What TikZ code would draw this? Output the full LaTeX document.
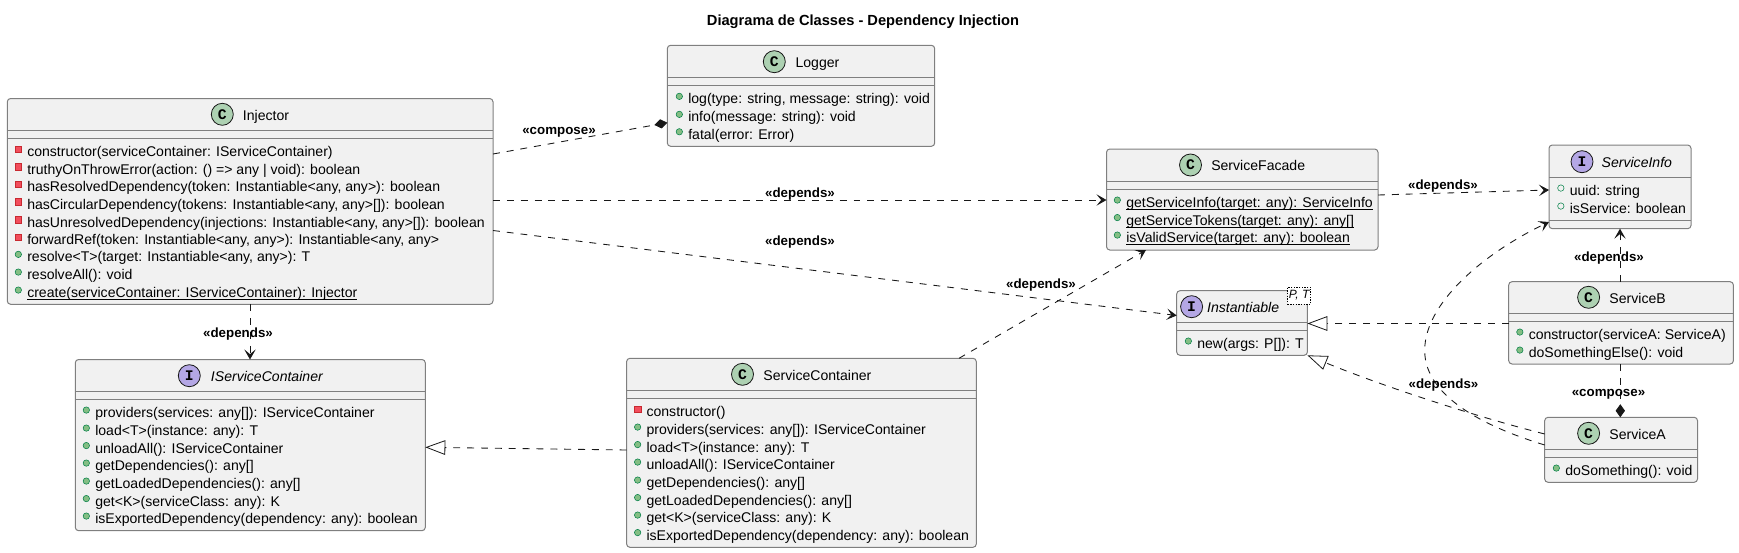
\documentclass[tikz,border=0pt]{standalone}
\usepackage{fontspec}
\setmainfont{Liberation Sans}
\setmonofont{Liberation Mono}
\usepackage{xcolor}
\usepackage{tikz}
\usetikzlibrary{arrows.meta, fit}

\definecolor{boxfill}{HTML}{F1F1F1}
\definecolor{boxline}{HTML}{7F7F7F}
\definecolor{inkline}{HTML}{181818}
\definecolor{classgreen}{HTML}{ADD1B2}
\definecolor{ifacepurple}{HTML}{B4A7E5}
\definecolor{privred}{HTML}{F24D5C}
\definecolor{privline}{HTML}{C82930}
\definecolor{pubgreen}{HTML}{84BE84}
\definecolor{publine}{HTML}{038048}

\begin{document}
\begin{tikzpicture}[
    x=0.75pt, y=-0.75pt,
    every node/.style={font=\fontsize{10.55}{12}\selectfont},
    classbox/.style={draw=boxline, fill=boxfill, rectangle, rounded corners=2.5pt, line width=0.75pt, inner sep=0pt, outer sep=0pt},
    sepline/.style={draw=boxline, line width=0.75pt},
    classicon/.style={draw=inkline, circle, fill=classgreen, line width=0.6pt, minimum size=16.5pt, inner sep=0pt, font=\ttfamily\bfseries\fontsize{11}{12}\selectfont},
    ifaceicon/.style={classicon, fill=ifacepurple},
    headtext/.style={anchor=west, inner sep=0pt, text height=8.5pt, text depth=1pt},
    ifacetext/.style={headtext, font=\itshape\fontsize{10.55}{12}\selectfont},
    member/.style={anchor=west, inner sep=0pt, text height=8pt, text depth=1pt},
    privmark/.style={draw=privline, fill=privred, rectangle, minimum size=4.8pt, inner sep=0pt, line width=0.4pt},
    pubmark/.style={draw=publine, fill=pubgreen, circle, minimum size=4.8pt, inner sep=0pt, line width=0.4pt},
    fieldmark/.style={draw=publine, fill=boxfill, circle, minimum size=4.8pt, inner sep=0pt, line width=0.4pt},
    privrow/.style={member, label={[privmark, label distance=3.9pt, yshift=2.2pt]left:{}}},
    pubrow/.style={member, label={[pubmark, label distance=3.9pt, yshift=2.2pt]left:{}}},
    fieldrow/.style={member, label={[fieldmark, label distance=3.9pt, yshift=2.2pt]left:{}}},
    stereo/.style={inner sep=0pt, text height=8pt, text depth=1pt, font=\bfseries\fontsize{10}{12}\selectfont},
    depline/.style={draw=inkline, line width=0.65pt, dash pattern=on 5.2pt off 5.2pt},
    deparrow/.style={depline, -{Stealth[length=7.5pt, width=8.5pt, inset=3.5pt]}},
    realizes/.style={depline, -{Triangle[fill=white, length=15pt, width=11pt, line width=0.6pt]}},
    composes/.style={depline, -{Diamond[fill=inkline, length=9.8pt, width=7pt]}}
]
    \useasboundingbox (0,0) rectangle (1739,553);

    % Title
    \node[inner sep=0pt, text height=8.5pt, text depth=1pt, font=\bfseries\fontsize{11}{12}\selectfont] (title) at (863,20) {Diagrama de Classes - Dependency Injection};

    % Class boxes
    \node[classbox, fit={(7.3,98.5) (493,304.3)}] (injector) {};
    \node[classbox, fit={(75.3,359.5) (425.3,530.7)}] (container) {};
    \node[classbox, fit={(626.6,358.3) (976.3,547.3)}] (servicecontainer) {};
    \node[classbox, fit={(667.3,45.3) (934.7,146.3)}] (logger) {};
    \node[classbox, fit={(1106.5,149) (1378,250)}] (facade) {};
    \node[classbox, fit={(1549,145) (1691,228.7)}] (serviceinfo) {};
    \node[classbox, fit={(1176.7,290.7) (1307.4,355.3)}] (instantiable) {};
    \node[classbox, fit={(1508.7,281.7) (1733.4,364)}] (serviceb) {};
    \node[classbox, fit={(1544.7,417.3) (1697.5,482.3)}] (servicea) {};

    % Compartment lines
    \draw[sepline] (injector.west |- 0,130.7) -- (injector.east |- 0,130.7);
    \draw[sepline] (injector.west |- 0,138.7) -- (injector.east |- 0,138.7);
    \draw[sepline] (container.west |- 0,391) -- (container.east |- 0,391);
    \draw[sepline] (container.west |- 0,399) -- (container.east |- 0,399);
    \draw[sepline] (servicecontainer.west |- 0,390.3) -- (servicecontainer.east |- 0,390.3);
    \draw[sepline] (servicecontainer.west |- 0,398.3) -- (servicecontainer.east |- 0,398.3);
    \draw[sepline] (logger.west |- 0,77.3) -- (logger.east |- 0,77.3);
    \draw[sepline] (logger.west |- 0,85.3) -- (logger.east |- 0,85.3);
    \draw[sepline] (facade.west |- 0,181.7) -- (facade.east |- 0,181.7);
    \draw[sepline] (facade.west |- 0,189.7) -- (facade.east |- 0,189.7);
    \draw[sepline] (serviceinfo.west |- 0,177.3) -- (serviceinfo.east |- 0,177.3);
    \draw[sepline] (serviceinfo.west |- 0,220.3) -- (serviceinfo.east |- 0,220.3);
    \draw[sepline] (instantiable.west |- 0,322.3) -- (instantiable.east |- 0,322.3);
    \draw[sepline] (instantiable.west |- 0,330.3) -- (instantiable.east |- 0,330.3);
    \draw[sepline] (serviceb.west |- 0,313.3) -- (serviceb.east |- 0,313.3);
    \draw[sepline] (serviceb.west |- 0,321.3) -- (serviceb.east |- 0,321.3);
    \draw[sepline] (servicea.west |- 0,449.3) -- (servicea.east |- 0,449.3);
    \draw[sepline] (servicea.west |- 0,457.3) -- (servicea.east |- 0,457.3);

    % Headers
    \node[classicon] (injectoricon) at (222.3,114.3) {C};
    \node[headtext] (injectorname) at (242.7,115) {Injector};
    \node[ifaceicon] (containericon) at (189.3,375.7) {I};
    \node[ifacetext] (containername) at (210.7,376) {IServiceContainer};
    \node[classicon] (servicecontainericon) at (742.5,374.3) {C};
    \node[headtext] (servicecontainername) at (763.2,375) {ServiceContainer};
    \node[classicon] (loggericon) at (774.3,61.7) {C};
    \node[headtext] (loggername) at (795.3,62) {Logger};
    \node[classicon] (facadeicon) at (1190.5,165) {C};
    \node[headtext] (facadename) at (1211,165.5) {ServiceFacade};
    \node[ifaceicon] (serviceinfoicon) at (1582,161.7) {I};
    \node[ifacetext] (serviceinfoname) at (1601.4,162) {ServiceInfo};
    \node[ifaceicon] (instantiableicon) at (1191.6,306.7) {I};
    \node[ifacetext] (instantiablename) at (1206.9,307) {Instantiable};
    \node[draw=black, fill=white, dash pattern=on 1pt off 1pt, line width=0.5pt, inner sep=0pt, minimum width=17.4pt, minimum height=12.8pt, font=\itshape\fontsize{9}{10}\selectfont] (instantiablegeneric) at (1299.1,295.5) {P, T};
    \node[classicon] (servicebicon) at (1588.6,297.3) {C};
    \node[headtext] (servicebname) at (1609.2,298) {ServiceB};
    \node[classicon] (serviceaicon) at (1588.6,433.3) {C};
    \node[headtext] (serviceaname) at (1609.2,434) {ServiceA};

    % Injector members
    \node[privrow] (injctor) at (27,152) {constructor(serviceContainer: IServiceContainer)};
    \node[privrow] (injtruthy) at (27,169.7) {truthyOnThrowError(action: () => any | void): boolean};
    \node[privrow] (injresolved) at (27,187.3) {hasResolvedDependency(token: Instantiable<any, any>): boolean};
    \node[privrow] (injcircular) at (27,204.8) {hasCircularDependency(tokens: Instantiable<any, any>[]): boolean};
    \node[privrow] (injunresolved) at (27,222.6) {hasUnresolvedDependency(injections: Instantiable<any, any>[]): boolean};
    \node[privrow] (injforward) at (27,240) {forwardRef(token: Instantiable<any, any>): Instantiable<any, any>};
    \node[pubrow] (injresolve) at (27,257.3) {resolve<T>(target: Instantiable<any, any>): T};
    \node[pubrow] (injresolveall) at (27,275) {resolveAll(): void};
    \node[pubrow] (injcreate) at (27,293) {\underline{\smash{create(serviceContainer: IServiceContainer): Injector}}};

    % IServiceContainer members
    \node[pubrow] (conproviders) at (95,413) {providers(services: any[]): IServiceContainer};
    \node[pubrow] (conload) at (95,431) {load<T>(instance: any): T};
    \node[pubrow] (conunload) at (95,448.5) {unloadAll(): IServiceContainer};
    \node[pubrow] (condeps) at (95,466) {getDependencies(): any[]};
    \node[pubrow] (conloaded) at (95,484) {getLoadedDependencies(): any[]};
    \node[pubrow] (conget) at (95,501.5) {get<K>(serviceClass: any): K};
    \node[pubrow] (conexported) at (95,519) {isExportedDependency(dependency: any): boolean};

    % ServiceContainer members
    \node[privrow] (svcctor) at (646.3,412) {constructor()};
    \node[pubrow] (svcproviders) at (646.3,430) {providers(services: any[]): IServiceContainer};
    \node[pubrow] (svcload) at (646.3,447.5) {load<T>(instance: any): T};
    \node[pubrow] (svcunload) at (646.3,465) {unloadAll(): IServiceContainer};
    \node[pubrow] (svcdeps) at (646.3,483) {getDependencies(): any[]};
    \node[pubrow] (svcloaded) at (646.3,500.5) {getLoadedDependencies(): any[]};
    \node[pubrow] (svcget) at (646.3,518) {get<K>(serviceClass: any): K};
    \node[pubrow] (svcexported) at (646.3,535.5) {isExportedDependency(dependency: any): boolean};

    % Logger members
    \node[pubrow] (loglog) at (688,99.3) {log(type: string, message: string): void};
    \node[pubrow] (loginfo) at (688,117.3) {info(message: string): void};
    \node[pubrow] (logfatal) at (688,134.7) {fatal(error: Error)};

    % ServiceFacade members
    \node[pubrow] (facinfo) at (1126,203) {\underline{\smash{getServiceInfo(target: any): ServiceInfo}}};
    \node[pubrow] (factokens) at (1126,220.5) {\underline{\smash{getServiceTokens(target: any): any[]}}};
    \node[pubrow] (facvalid) at (1126,238) {\underline{\smash{isValidService(target: any): boolean}}};

    % ServiceInfo members
    \node[fieldrow] (infouuid) at (1569.5,191) {uuid: string};
    \node[fieldrow] (infoflag) at (1569.5,209) {isService: boolean};

    % Instantiable, ServiceB and ServiceA members
    \node[pubrow] (instnew) at (1197,344) {new(args: P[]): T};
    \node[pubrow] (bctor) at (1528.5,335) {constructor(serviceA: ServiceA)};
    \node[pubrow] (bdoelse) at (1528.5,353) {doSomethingElse(): void};
    \node[pubrow] (adosome) at (1565,471) {doSomething(): void};

    % Connectors
    \draw[composes] (injector.east |- 0,154) -- (logger.west |- 0,122.7);
    \draw[deparrow] (injector.east |- 0,200) -- (facade.west |- 0,200);
    \draw[deparrow] (injector.east |- 0,230.5) -- (instantiable.west |- 0,315.5);
    \draw[deparrow] (injector.south -| 250,0) -- (container.north -| 250,0);
    \draw[deparrow] (servicecontainer.north -| 959,0) -- (facade.south -| 1146,0);
    \draw[realizes] (servicecontainer.west |- 0,450) -- (container.east |- 0,447.3);
    \draw[deparrow] (facade.east |- 0,195) -- (serviceinfo.west |- 0,190);
    \draw[deparrow] (servicea.west |- 0,445) .. controls (1495,430) and (1424,400) .. (1424.7,350) .. controls (1425,300) and (1490,250) .. (serviceinfo.west |- 0,222);
    \draw[realizes] (servicea.west |- 0,434) .. controls (1470,415) and (1380,385) .. (instantiable.south east);
    \draw[realizes] (serviceb.west |- 0,323.5) -- (instantiable.east |- 0,323.5);
    \draw[deparrow] (serviceb.north -| 1620,0) -- (serviceinfo.south -| 1620,0);
    \draw[composes] (serviceb.south -| 1620.3,0) -- (servicea.north -| 1620.3,0);

    % Connector labels
    \node[stereo] (lblcompose) at (559,130) {«compose»};
    \node[stereo] (lblfacade) at (800,193) {«depends»};
    \node[stereo] (lblinstantiable) at (800,240.6) {«depends»};
    \node[stereo] (lblcontainer) at (238,332.7) {«depends»};
    \node[stereo] (lblsvcfacade) at (1041,284) {«depends»};
    \node[stereo] (lblinfo) at (1443,185) {«depends»};
    \node[stereo] (lblcurve) at (1443.5,383.7) {«depends»};
    \node[stereo] (lblbinfo) at (1609,256.7) {«depends»};
    \node[stereo] (lblab) at (1608.5,392) {«compose»};
\end{tikzpicture}
\end{document}
